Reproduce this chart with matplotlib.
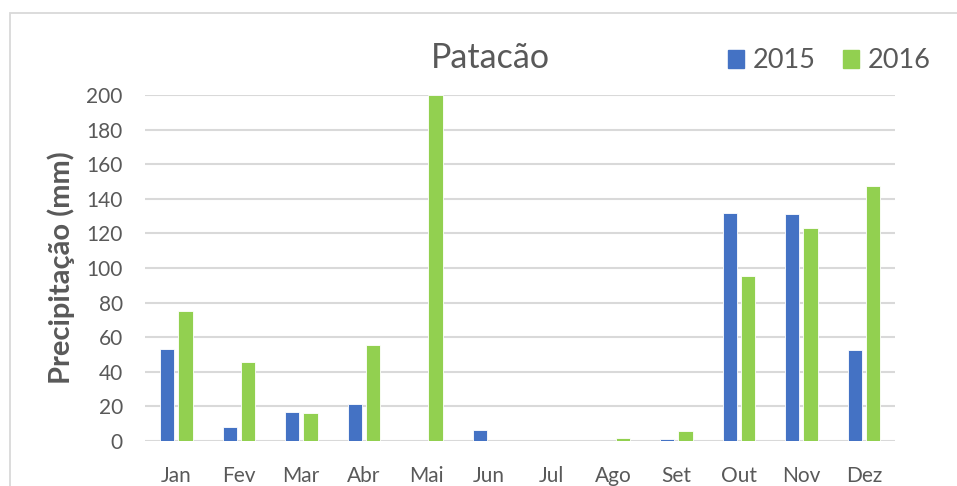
import numpy as np
import matplotlib
matplotlib.use('Agg')
import matplotlib.pyplot as plt
from matplotlib.patches import Rectangle, Patch

plt.rcParams['font.family'] = ['Lato', 'DejaVu Sans']

months = ['Jan', 'Fev', 'Mar', 'Abr', 'Mai', 'Jun', 'Jul', 'Ago', 'Set', 'Out', 'Nov', 'Dez']
rain_2015 = [53.0, 8.0, 17.0, 21.2, 0.0, 6.4, 0.0, 0.0, 1.3, 132.0, 131.4, 52.6]
rain_2016 = [75.0, 45.8, 16.2, 55.5, 200.0, 0.0, 0.0, 1.5, 5.8, 95.4, 123.3, 147.6]
yticks = [0, 20, 40, 60, 80, 100, 120, 140, 160, 180, 200]

BLUE = '#4472C4'
GREEN = '#92D050'
TXT = '#595959'
GRID = '#D9D9D9'

W, H = 957, 486
fig = plt.figure(figsize=(W / 100, H / 100), dpi=100)

# chart frame (cut off at right/bottom in the reference)
fig.patches.append(Rectangle((10 / W, -0.1), 1.2, (H - 13) / H + 0.1,
                             transform=fig.transFigure, fill=False,
                             edgecolor=GRID, lw=1.3))

ax = fig.add_axes([145 / W, (H - 441) / H, 750 / W, 346 / H])
x = np.arange(len(months))
bw = 0.23
ax.bar(x - 0.145, rain_2015, bw, color=BLUE, edgecolor='white', lw=0.6, zorder=3)
ax.bar(x + 0.145, rain_2016, bw, color=GREEN, edgecolor='white', lw=0.6, zorder=3)

ax.set_xlim(-0.5, len(months) - 0.5)
ax.set_ylim(0, 200)
ax.set_yticks(yticks)
ax.set_xticks(x)
ax.set_xticklabels(months)
ax.grid(axis='y', color=GRID, lw=1.5, zorder=0)
ax.set_axisbelow(True)
for s in ax.spines.values():
    s.set_visible(False)
ax.tick_params(axis='both', length=0, labelsize=15, labelcolor=TXT)
ax.tick_params(axis='y', pad=16)
ax.tick_params(axis='x', pad=18)
ax.set_ylabel('Precipitação (mm)', fontsize=21, fontweight='bold', color=TXT, labelpad=8)

fig.text(490 / W, (H - 58) / H, 'Patacão', fontsize=24.5, color=TXT, ha='center', va='center')

handles = [Patch(color=BLUE, label='2015'), Patch(color=GREEN, label='2016')]
fig.legend(handles=handles, loc='center', bbox_to_anchor=(829 / W, (H - 61) / H), ncol=2,
           frameon=False, fontsize=19.5, labelcolor=TXT, handlelength=0.62, handleheight=0.62,
           handletextpad=0.3, columnspacing=1.0)

fig.savefig('out.png', dpi=100)
